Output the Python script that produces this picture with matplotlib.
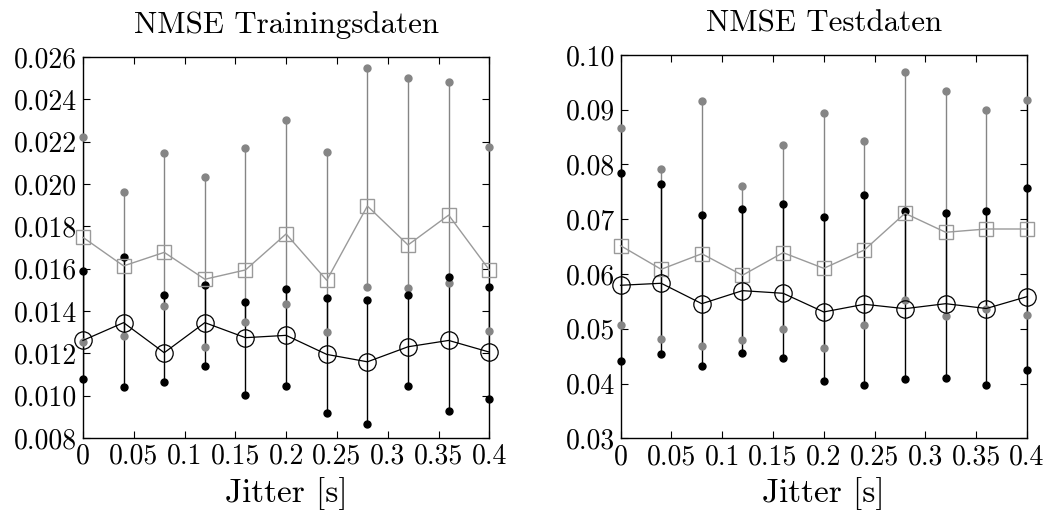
import matplotlib

matplotlib.use("Agg")
import matplotlib.pyplot as plt

plt.rcParams.update({
    "font.family": "serif",
    "font.serif": ["cmr10", "DejaVu Serif"],
    "mathtext.fontset": "cm",
    "axes.unicode_minus": False,
    "axes.formatter.use_mathtext": True,
    "font.size": 20,
})

jitter = [0.0, 0.04, 0.08, 0.12, 0.16, 0.2, 0.24, 0.28, 0.32, 0.36, 0.4]
xtick_vals = [0, 0.05, 0.1, 0.15, 0.2, 0.25, 0.3, 0.35, 0.4]
xtick_labels = ["0", "0.05", "0.1", "0.15", "0.2", "0.25", "0.3", "0.35", "0.4"]

# Trainingsdaten
train_gray_mean = [0.01748, 0.01613, 0.01677, 0.0155, 0.01594, 0.01764, 0.01545, 0.01896, 0.01712, 0.01853, 0.01594]
train_gray_max = [0.02223, 0.01964, 0.02146, 0.02032, 0.02169, 0.02301, 0.0215, 0.02547, 0.02502, 0.02484, 0.02176]
train_gray_min = [0.01253, 0.01282, 0.01423, 0.01231, 0.01346, 0.01433, 0.01302, 0.01512, 0.0151, 0.01534, 0.01307]
train_black_mean = [0.01261, 0.01345, 0.01203, 0.01345, 0.01274, 0.01285, 0.01195, 0.0116, 0.01231, 0.01261, 0.01206]
train_black_max = [0.01589, 0.01655, 0.01475, 0.01523, 0.01442, 0.01502, 0.0146, 0.01452, 0.01475, 0.0156, 0.01513]
train_black_min = [0.0108, 0.01041, 0.01066, 0.01138, 0.01001, 0.01047, 0.00918, 0.00867, 0.01045, 0.00926, 0.00982]

# Testdaten
test_gray_mean = [0.06518, 0.06086, 0.0637, 0.05977, 0.0639, 0.06104, 0.06439, 0.07109, 0.06762, 0.06822, 0.06822]
test_gray_max = [0.08667, 0.07918, 0.09166, 0.07614, 0.08356, 0.08935, 0.0843, 0.09684, 0.09343, 0.0899, 0.09172]
test_gray_min = [0.05069, 0.04814, 0.04686, 0.0479, 0.04996, 0.04649, 0.05075, 0.0552, 0.05228, 0.05356, 0.05247]
test_black_mean = [0.05794, 0.05831, 0.05458, 0.05696, 0.05648, 0.05307, 0.05447, 0.05367, 0.05458, 0.0537, 0.05586]
test_black_max = [0.07851, 0.07638, 0.07072, 0.07188, 0.07285, 0.07042, 0.07443, 0.07151, 0.0712, 0.07151, 0.07565]
test_black_min = [0.04412, 0.0454, 0.04315, 0.04558, 0.04461, 0.04047, 0.03979, 0.04089, 0.04107, 0.0398, 0.04253]

GRAY = "#858585"
GRAY_LIGHT = "#9a9a9a"


def draw_panel(ax, title, gmean, gmax, gmin, bmean, bmax, bmin, ylim, yticks, ylabels):
    ax.vlines(jitter, gmin, gmax, color=GRAY, linewidth=1.0, zorder=1)
    ax.vlines(jitter, bmin, bmax, color="black", linewidth=1.0, zorder=2)
    ax.plot(jitter, gmax, "o", color=GRAY, markersize=5, zorder=3, clip_on=False)
    ax.plot(jitter, gmin, "o", color=GRAY, markersize=5, zorder=3, clip_on=False)
    ax.plot(jitter, bmax, "o", color="black", markersize=5, zorder=4, clip_on=False)
    ax.plot(jitter, bmin, "o", color="black", markersize=5, zorder=4, clip_on=False)
    ax.plot(jitter, gmean, "-s", color=GRAY_LIGHT, linewidth=1.0, markersize=9.5,
            markerfacecolor="none", markeredgecolor=GRAY_LIGHT, markeredgewidth=1.0,
            zorder=5, clip_on=False)
    ax.plot(jitter, bmean, "-o", color="black", linewidth=0.9, markersize=12.5,
            markerfacecolor="none", markeredgecolor="black", markeredgewidth=0.9,
            zorder=6, clip_on=False)
    ax.set_xlim(0, 0.4)
    ax.set_ylim(*ylim)
    ax.set_xticks(xtick_vals)
    ax.set_xticklabels(xtick_labels)
    ax.set_yticks(yticks)
    ax.set_yticklabels(ylabels)
    ax.tick_params(direction="in", top=True, right=True, length=5, width=0.8, pad=4)
    for sp in ax.spines.values():
        sp.set_linewidth(1.0)
    ax.set_xlabel("Jitter [s]", fontsize=24, labelpad=5)
    ax.set_title(title, fontsize=22.3, pad=17)


fig = plt.figure(figsize=(10.5, 5.12), dpi=100)
ax1 = fig.add_axes([0.079, 0.1445, 0.387, 0.7442])
ax2 = fig.add_axes([0.591, 0.1440, 0.387, 0.7486])

train_ticks = [0.008, 0.010, 0.012, 0.014, 0.016, 0.018, 0.020, 0.022, 0.024, 0.026]
draw_panel(ax1, "NMSE Trainingsdaten", train_gray_mean, train_gray_max, train_gray_min,
           train_black_mean, train_black_max, train_black_min, (0.008, 0.026),
           train_ticks, [f"{t:.3f}" for t in train_ticks])

test_ticks = [0.03, 0.04, 0.05, 0.06, 0.07, 0.08, 0.09, 0.10]
draw_panel(ax2, "NMSE Testdaten", test_gray_mean, test_gray_max, test_gray_min,
           test_black_mean, test_black_max, test_black_min, (0.03, 0.10),
           test_ticks, [f"{t:.2f}" for t in test_ticks])

fig.savefig("out.png", dpi=100)
